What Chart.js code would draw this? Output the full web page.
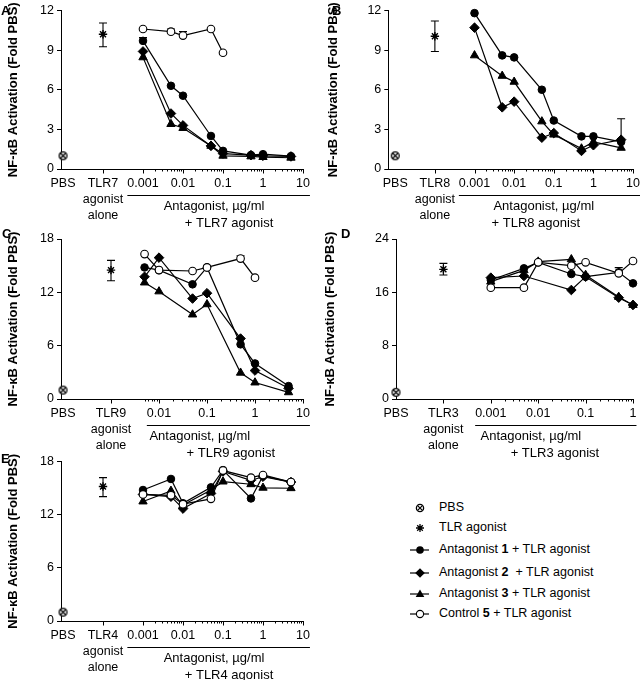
<!DOCTYPE html>
<html>
<head>
<meta charset="utf-8">
<script src="https://cdn.jsdelivr.net/npm/chart.js@4.4.1/dist/chart.umd.min.js"></script>
<style>
  html, body { margin: 0; padding: 0; background: #fff; }
  #fig { position: relative; width: 643px; height: 680px; overflow: hidden;
         font-family: "Liberation Sans", Arial, Helvetica, sans-serif; color: #000; }
  #fig canvas { position: absolute; }
  .letter { position: absolute; font-weight: bold; font-size: 13px; line-height: 13px; }
  .row { position: absolute; left: 405px; height: 20px; width: 238px; font-size: 12.5px; }
  .row svg { position: absolute; left: 0; top: 0; }
  .row span { position: absolute; left: 34px; top: 2px; white-space: pre; }
</style>
</head>
<body>
<div id="fig">
  <canvas id="cA" width="322" height="236" style="left:0;top:0"></canvas>
  <canvas id="cB" width="323" height="236" style="left:320px;top:0"></canvas>
  <canvas id="cC" width="322" height="240" style="left:0;top:222px"></canvas>
  <canvas id="cD" width="323" height="240" style="left:320px;top:222px"></canvas>
  <canvas id="cE" width="322" height="234" style="left:0;top:446px"></canvas>

  <div class="letter" style="left:1px;top:4px">A</div>
  <div class="letter" style="left:332px;top:4px">B</div>
  <div class="letter" style="left:2px;top:227px">C</div>
  <div class="letter" style="left:341px;top:227px">D</div>
  <div class="letter" style="left:1px;top:452px">E</div>

  <!-- legend -->
  <div class="row" style="top:498px">
    <svg width="30" height="20"><circle cx="15" cy="10" r="3.6" fill="#fff" stroke="#000" stroke-width="1.3"/>
      <path d="M12.6 7.6 L17.4 12.4 M17.4 7.6 L12.6 12.4" stroke="#000" stroke-width="1.2"/></svg>
    <span>PBS</span>
  </div>
  <div class="row" style="top:518px">
    <svg width="30" height="20"><path d="M15 6 V14 M11 10 H19 M12.2 7.2 L17.8 12.8 M17.8 7.2 L12.2 12.8" stroke="#000" stroke-width="1.3"/></svg>
    <span>TLR agonist</span>
  </div>
  <div class="row" style="top:540px">
    <svg width="30" height="20"><path d="M5 10 H24" stroke="#000" stroke-width="1.2"/><circle cx="15" cy="10" r="3.8" fill="#000"/></svg>
    <span>Antagonist <b>1</b> + TLR agonist</span>
  </div>
  <div class="row" style="top:563px">
    <svg width="30" height="20"><path d="M5 10 H24" stroke="#000" stroke-width="1.2"/><path d="M15 5.2 L19.8 10 L15 14.8 L10.2 10 Z" fill="#000"/></svg>
    <span>Antagonist <b>2</b>  + TLR agonist</span>
  </div>
  <div class="row" style="top:584px">
    <svg width="30" height="20"><path d="M5 10 H24" stroke="#000" stroke-width="1.2"/><path d="M15 5.5 L19.3 13 L10.7 13 Z" fill="#000"/></svg>
    <span>Antagonist <b>3</b> + TLR agonist</span>
  </div>
  <div class="row" style="top:604px">
    <svg width="30" height="20"><path d="M5 10 H24" stroke="#000" stroke-width="1.2"/><circle cx="15" cy="10" r="3.6" fill="#fff" stroke="#000" stroke-width="1.1"/></svg>
    <span>Control <b>5</b> + TLR agonist</span>
  </div>
</div>

<script>
// ---- data (fold over PBS) ----
const PBS_VALUE = 1.0;

// A — TLR7
const A_CONC  = [0.001, 0.005, 0.01, 0.05, 0.1, 0.5, 1, 5];
const A_ANT1  = [9.7, 6.3, 5.55, 2.5, 1.37, 1.05, 1.12, 0.97];
const A_ANT1_HI = [9.95, null, null, null, null, null, null, null];
const A_ANT2  = [8.9, 4.2, 3.3, 1.75, 1.17, 1.05, 1.0, 0.95];
const A_ANT3  = [8.45, 3.4, 3.1, 1.75, 1.0, 0.95, 0.9, 0.85];
const A_CTRL5 = [10.6, 10.4, 10.1, 10.6, 8.8, null, null, null];
const A_CTRL5_HI = [null, 10.6, 10.4, null, null, null, null, null];
const A_AGONIST = [10.2, 9.25, 11.05];   // mean, low, high

// B — TLR8
const B_CONC  = [0.001, 0.005, 0.01, 0.05, 0.1, 0.5, 1, 5];
const B_ANT1  = [11.8, 8.6, 8.45, 6.0, 3.67, 2.47, 2.47, 2.05];
const B_ANT2  = [10.7, 4.67, 5.1, 2.37, 2.72, 1.37, 1.8, 2.22];
const B_ANT2_HI = [null, null, null, null, null, null, null, 3.8];
const B_ANT3  = [8.6, 7.05, 6.6, 3.6, 2.6, 1.55, 2.05, 1.6];
const B_AGONIST = [10.05, 8.9, 11.2];

// C — TLR9
const C_CONC  = [0.005, 0.01, 0.05, 0.1, 0.5, 1, 5];
const C_ANT1  = [14.8, 14.5, 12.9, 14.8, 6.15, 4.0, 1.45];
const C_ANT2  = [13.75, 15.9, 11.3, 11.9, 6.8, 3.2, 1.2];
const C_ANT3  = [13.1, 12.1, 9.5, 10.65, 2.95, 1.85, 0.75];
const C_CTRL5 = [16.3, 14.5, 14.4, 14.8, 15.8, 13.65, null];
const C_CTRL5_HI = [null, null, null, null, 16.1, null, null];
const C_AGONIST = [14.5, 13.3, 15.6];

// D — TLR3
const D_CONC  = [0.001, 0.005, 0.01, 0.05, 0.1, 0.5, 1];
const D_ANT1  = [17.85, 19.6, 20.5, 18.75, 18.35, 19.0, 17.35];
const D_ANT2  = [18.2, 18.45, null, 16.35, 18.35, 15.2, 14.1];
const D_ANT3  = [17.6, 19.3, 20.6, 20.95, 18.6, 15.3, 14.1];
const D_CTRL5 = [16.7, 16.7, 20.5, 20.0, 20.5, 18.85, 20.7];
const D_CTRL5_HI = [null, null, null, null, null, 19.7, null];
const D_AGONIST = [19.45, 18.6, 20.35];

// E — TLR4
const E_CONC  = [0.001, 0.005, 0.01, 0.05, 0.1, 0.5, 1, 5];
const E_ANT1  = [14.8, 16.05, 13.3, 15.1, 17.05, 13.85, 16.4, 15.7];
const E_ANT2  = [14.3, 14.05, 12.7, 14.4, 16.9, 15.9, 16.3, 15.7];
const E_ANT3  = [13.5, 14.7, 13.1, 14.8, 15.75, 15.45, 15.05, 15.0];
const E_CTRL5 = [14.3, 14.2, 13.2, 13.8, 17.0, 16.2, 16.5, 15.7];
const E_AGONIST = [15.2, 14.05, 16.2];

// axis ticks
const Y_TICKS_12 = [0, 3, 6, 9, 12];
const Y_TICKS_18 = [0, 6, 12, 18];
const Y_TICKS_24 = [0, 8, 16, 24];
const X_MAJORS_WIDE  = [0.001, 0.01, 0.1, 1, 10];
const X_LABELS_WIDE  = ['0.001', '0.01', '0.1', '1', '10'];
const X_MAJORS_C     = [0.01, 0.1, 1, 10];
const X_LABELS_C     = ['0.01', '0.1', '1', '10'];
const X_MAJORS_D     = [0.001, 0.01, 0.1, 1];
const X_LABELS_D     = ['0.001', '0.01', '0.1', '1'];

const FONT = '"Liberation Sans", Arial, Helvetica, sans-serif';
Chart.defaults.font.family = FONT;
Chart.defaults.color = '#000';

function pbsMarker() {
  const c = document.createElement('canvas');
  c.width = 11; c.height = 11;
  const g = c.getContext('2d');
  g.strokeStyle = '#000'; g.fillStyle = '#fff'; g.lineWidth = 1.3;
  g.beginPath(); g.arc(5.5, 5.5, 3.9, 0, Math.PI * 2); g.fill(); g.stroke();
  g.lineWidth = 1.2;
  g.beginPath();
  g.moveTo(3, 3); g.lineTo(8, 8); g.moveTo(8, 3); g.lineTo(3, 8);
  g.stroke();
  return c;
}
const PBS_IMG = pbsMarker();

function pts(conc, vals, hi) {
  const out = [];
  conc.forEach((c, i) => {
    if (vals[i] == null) return;
    const p = { x: c, y: vals[i] };
    if (hi && hi[i] != null) p.hi = hi[i];
    out.push(p);
  });
  return out;
}

const SERIES_STYLE = {
  ctrl: { pointStyle: 'circle',   pointRadius: 3.8, pointBackgroundColor: '#fff', pointBorderWidth: 1.1 },
  ant1: { pointStyle: 'circle',   pointRadius: 3.8, pointBackgroundColor: '#000', pointBorderWidth: 1 },
  ant2: { pointStyle: 'rectRot',  pointRadius: 4.8, pointBackgroundColor: '#000', pointBorderWidth: 1 },
  ant3: { pointStyle: 'triangle', pointRadius: 4.8, pointBackgroundColor: '#000', pointBorderWidth: 1 }
};

function lineSet(kind, data) {
  return Object.assign({
    data, borderColor: '#000', borderWidth: 1.2, pointBorderColor: '#000',
    showLine: true, tension: 0, fill: false, clip: false
  }, SERIES_STYLE[kind]);
}

// tick marks, error bars, underline and caption under the dose axis
const deco = {
  id: 'deco',
  beforeDatasetsDraw(chart) {
    const { ctx } = chart;
    const y = chart.scales.y;
    ctx.save();
    ctx.strokeStyle = '#000'; ctx.lineWidth = 1.1;
    chart.data.datasets.forEach((ds, di) => {
      const meta = chart.getDatasetMeta(di);
      ds.data.forEach((p, i) => {
        if (p.hi == null) return;
        const px = meta.data[i].x;
        const yHi = y.getPixelForValue(p.hi);
        const yLo = y.getPixelForValue(p.lo != null ? p.lo : p.y);
        ctx.beginPath();
        ctx.moveTo(px, yLo); ctx.lineTo(px, yHi);
        ctx.moveTo(px - 4, yHi); ctx.lineTo(px + 4, yHi);
        if (p.lo != null) { ctx.moveTo(px - 4, yLo); ctx.lineTo(px + 4, yLo); }
        ctx.stroke();
      });
    });
    ctx.restore();
  },
  afterDraw(chart, args, o) {
    const { ctx } = chart;
    const x = chart.scales.x;
    const bottom = chart.chartArea.bottom;
    ctx.save();
    ctx.strokeStyle = '#000'; ctx.lineWidth = 1;
    x.ticks.forEach(t => {
      if (t.value === o.pbsX) return;
      const px = Math.round(x.getPixelForValue(t.value)) + 0.5;
      const len = (o.majors.includes(t.value) || t.value === o.agonistX) ? 4.5 : 2.5;
      ctx.beginPath(); ctx.moveTo(px, bottom); ctx.lineTo(px, bottom + len); ctx.stroke();
    });
    ctx.font = '12.5px ' + FONT;
    const x1 = x.getPixelForValue(o.majors[0]) - ctx.measureText(o.labels[0]).width / 2;
    const last = o.majors.length - 1;
    const x2 = x.getPixelForValue(o.majors[last]) + ctx.measureText(o.labels[last]).width / 2;
    const uy = Math.round(bottom + 26) + 0.5;
    ctx.beginPath(); ctx.moveTo(x1, uy); ctx.lineTo(x2, uy); ctx.stroke();

    ctx.font = '13px ' + FONT;
    ctx.fillStyle = '#000'; ctx.textAlign = 'center'; ctx.textBaseline = 'middle';
    const mid = (x.getPixelForValue(o.logStart) + chart.chartArea.right) / 2;
    ctx.fillText('Antagonist, \u00b5g/ml', mid + o.cap1dx, bottom + 37);
    ctx.fillText('+ ' + o.agonist + ' agonist', mid + o.cap2dx, bottom + 54);
    ctx.restore();
  }
};

function logTicks(start, majors) {
  // dose ticks: 1..9 per decade from the start of the dose segment
  const out = [];
  const top = majors[majors.length - 1];
  let dec = Math.pow(10, Math.floor(Math.log10(start) + 1e-9));
  while (dec <= top + 1e-12) {
    for (let m = 1; m <= 9; m++) {
      const v = +(m * dec).toPrecision(6);
      if (v >= start - 1e-12 && v <= top + 1e-12) out.push(v);
    }
    dec *= 10;
  }
  return out;
}

function makePanel(p) {
  const datasets = [];
  if (p.ctrl) datasets.push(lineSet('ctrl', pts(p.conc, p.ctrl, p.ctrlHi)));
  datasets.push(lineSet('ant1', pts(p.conc, p.ant1, p.ant1Hi)));
  datasets.push(lineSet('ant2', pts(p.conc, p.ant2, p.ant2Hi)));
  datasets.push(lineSet('ant3', pts(p.conc, p.ant3, p.ant3Hi)));
  datasets.push({
    data: [{ x: p.agonistX, y: p.agonist[0], lo: p.agonist[1], hi: p.agonist[2] }],
    showLine: false, pointStyle: 'star', pointRadius: 4.2, pointBorderWidth: 1.4,
    pointBorderColor: '#000', borderColor: '#000', clip: false
  });
  datasets.push({
    data: [{ x: p.pbsX, y: PBS_VALUE }],
    showLine: false, pointStyle: PBS_IMG, clip: false
  });

  const xTicks = [p.pbsX, p.agonistX].concat(logTicks(p.logStart, p.majors));
  const canvas = document.getElementById(p.id);

  return new Chart(canvas, {
    type: 'line',
    data: { datasets },
    plugins: [deco],
    options: {
      responsive: false, animation: false, devicePixelRatio: 1,
      layout: { padding: { top: p.area.top, right: canvas.width - p.area.right, left: 0, bottom: 0 } },
      plugins: {
        legend: { display: false }, tooltip: { enabled: false },
        deco: {
          pbsX: p.pbsX, agonistX: p.agonistX, majors: p.majors, labels: p.labels,
          logStart: p.logStart, agonist: p.name, cap1dx: p.cap1dx, cap2dx: p.cap2dx
        }
      },
      scales: {
        x: {
          type: 'logarithmic', min: p.xMin, max: p.xMax,
          afterBuildTicks: s => { s.ticks = xTicks.map(v => ({ value: v })); },
          afterFit: s => { s.height = canvas.height - p.area.bottom; },
          ticks: {
            autoSkip: false, maxRotation: 0, minRotation: 0, padding: 3, color: '#000',
            font: { size: 12.5, lineHeight: 1.28 },
            callback: v => {
              if (v === p.pbsX) return 'PBS';
              if (v === p.agonistX) return [p.name, 'agonist', 'alone'];
              const k = p.majors.indexOf(v);
              return k >= 0 ? p.labels[k] : '';
            }
          },
          grid: { drawOnChartArea: false, drawTicks: true, tickLength: 4, tickColor: 'rgba(0,0,0,0)' },
          border: { display: true, color: '#000', width: 1 }
        },
        y: {
          min: 0, max: p.yTicks[p.yTicks.length - 1],
          afterBuildTicks: s => { s.ticks = p.yTicks.map(v => ({ value: v })); },
          afterFit: s => { s.width = p.area.left; },
          ticks: { color: '#000', padding: 3, font: { size: 12.5 } },
          grid: { drawOnChartArea: false, drawTicks: true, tickLength: 4, tickColor: '#000', tickWidth: 1 },
          border: { display: true, color: '#000', width: 1 },
          title: {
            display: true, text: 'NF-\u03baB Activation (Fold PBS)', color: '#000',
            font: { size: 13, weight: 'bold' }, padding: { top: p.titlePad, bottom: 0 }
          }
        }
      }
    }
  });
}

makePanel({
  id: 'cA', name: 'TLR7', conc: A_CONC, ant1: A_ANT1, ant1Hi: A_ANT1_HI, ant2: A_ANT2, ant3: A_ANT3,
  ctrl: A_CTRL5, ctrlHi: A_CTRL5_HI, agonist: A_AGONIST, yTicks: Y_TICKS_12,
  majors: X_MAJORS_WIDE, labels: X_LABELS_WIDE, logStart: 0.001,
  pbsX: 1e-5, agonistX: 1e-4, xMin: 0.891e-5, xMax: 10,
  area: { left: 61, right: 303, top: 9.3, bottom: 169 }, titlePad: 6, cap1dx: -9, cap2dx: 6
});
makePanel({
  id: 'cB', name: 'TLR8', conc: B_CONC, ant1: B_ANT1, ant2: B_ANT2, ant2Hi: B_ANT2_HI, ant3: B_ANT3,
  agonist: B_AGONIST, yTicks: Y_TICKS_12,
  majors: X_MAJORS_WIDE, labels: X_LABELS_WIDE, logStart: 0.001,
  pbsX: 1e-5, agonistX: 1e-4, xMin: 0.668e-5, xMax: 10,
  area: { left: 68.3, right: 315, top: 9.3, bottom: 169 }, titlePad: 6, cap1dx: -10, cap2dx: -18
});
makePanel({
  id: 'cC', name: 'TLR9', conc: C_CONC, ant1: C_ANT1, ant2: C_ANT2, ant3: C_ANT3,
  ctrl: C_CTRL5, ctrlHi: C_CTRL5_HI, agonist: C_AGONIST, yTicks: Y_TICKS_18,
  majors: X_MAJORS_C, labels: X_LABELS_C, logStart: 0.005,
  pbsX: 1e-4, agonistX: 1e-3, xMin: 0.9085e-4, xMax: 10,
  area: { left: 61, right: 303, top: 17, bottom: 177 }, titlePad: 6, cap1dx: -24, cap2dx: 7
});
makePanel({
  id: 'cD', name: 'TLR3', conc: D_CONC, ant1: D_ANT1, ant2: D_ANT2, ant3: D_ANT3,
  ctrl: D_CTRL5, ctrlHi: D_CTRL5_HI, agonist: D_AGONIST, yTicks: Y_TICKS_24,
  majors: X_MAJORS_D, labels: X_LABELS_D, logStart: 0.001,
  pbsX: 1e-5, agonistX: 1e-4, xMin: 1e-5, xMax: 1,
  area: { left: 76, right: 313, top: 17, bottom: 177 }, titlePad: 3, cap1dx: -31, cap2dx: -7
});
makePanel({
  id: 'cE', name: 'TLR4', conc: E_CONC, ant1: E_ANT1, ant2: E_ANT2, ant3: E_ANT3,
  ctrl: E_CTRL5, agonist: E_AGONIST, yTicks: Y_TICKS_18,
  majors: X_MAJORS_WIDE, labels: X_LABELS_WIDE, logStart: 0.001,
  pbsX: 1e-5, agonistX: 1e-4, xMin: 0.891e-5, xMax: 10,
  area: { left: 61, right: 303, top: 15.7, bottom: 175 }, titlePad: 6, cap1dx: -9, cap2dx: 6
});
</script>
</body>
</html>
